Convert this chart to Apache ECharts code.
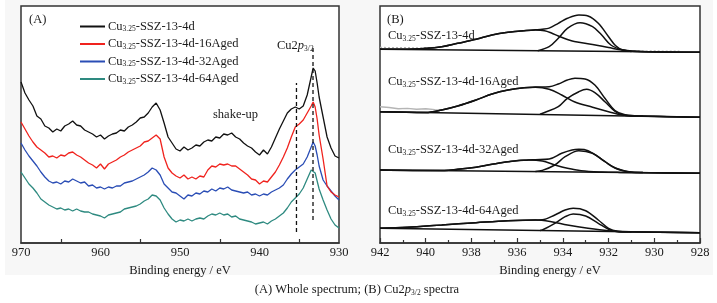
<!DOCTYPE html>
<html>
<head>
<meta charset="utf-8">
<script src="https://cdn.jsdelivr.net/npm/echarts@6/dist/echarts.min.js"></script>
<style>
  html, body { margin: 0; padding: 0; background: #fff; }
  #chart { width: 717px; height: 303px; }
</style>
</head>
<body>
<div id="chart"></div>
<script>
// ---- panel A: whole spectrum (binding energy, eV) ----
const eA = [
  970, 969.5, 969, 968.5, 968, 967.5, 967, 966.5, 966, 965.5,
  965, 964.5, 964, 963.5, 963, 962.5, 962, 961.5, 961, 960.5,
  960, 959.5, 959, 958.5, 958, 957.5, 957, 956.5, 956, 955.5,
  955, 954.5, 954, 953.5, 953, 952.5, 952, 951.5, 951, 950.5,
  950, 949.5, 949, 948.5, 948, 947.5, 947, 946.5, 946, 945.5,
  945, 944.5, 944, 943.5, 943, 942.5, 942, 941.5, 941, 940.5,
  940, 939.5, 939, 938.5, 938, 937.5, 937, 936.5, 936, 935.5,
  935, 934.5, 934, 933.5, 933.25, 933, 932.75, 932.5, 932, 931.5, 931, 930.5, 930
];
const aged0 = [
  161, 150, 143, 137, 127, 124, 117, 115, 111, 114,
  112, 117, 119, 122, 118, 117, 113, 111, 109, 106,
  108, 104, 107, 109, 110, 113, 112, 116, 118, 121,
  125, 126, 130, 136, 140, 133, 120, 106, 100, 94,
  92, 96, 93, 95, 98, 97, 101, 103, 102, 106,
  105, 109, 108, 110, 106, 104, 100, 97, 95, 91,
  88, 93, 89, 96, 105, 114, 122, 130, 134, 136,
  134, 137, 148, 166, 175, 172, 160, 146, 126, 106, 95, 87, 85
];
const aged16 = [
  121, 114, 107, 101, 96, 93, 90, 86, 87, 85,
  88, 87, 90, 91, 88, 86, 83, 80, 78, 75,
  79, 74, 79, 81, 83, 86, 88, 91, 93, 95,
  97, 101, 102, 105, 108, 104, 86, 75, 70, 67,
  65, 68, 64, 66, 64, 67, 66, 73, 77, 76,
  79, 78, 79, 77, 77, 74, 71, 68, 64, 63,
  59, 62, 61, 66, 71, 78, 86, 95, 106, 116,
  119, 123, 130, 137, 141, 136, 124, 108, 84, 57, 51, 48, 46
];
const aged32 = [
  100, 93, 87, 82, 77, 71, 66, 62, 60, 61,
  59, 62, 61, 64, 62, 60, 61, 57, 58, 55,
  56, 54, 56, 55, 57, 57, 60, 61, 62, 64,
  66, 68, 71, 75, 73, 68, 59, 55, 51, 50,
  47, 44, 48, 47, 50, 49, 52, 51, 54, 52,
  55, 54, 56, 53, 52, 51, 50, 51, 48, 49,
  47, 49, 48, 51, 53, 55, 58, 64, 69, 73,
  76, 79, 86, 96, 101, 97, 88, 77, 63, 57, 52, 47, 43
];
const aged64 = [
  71, 65, 59, 55, 50, 44, 41, 38, 36, 34,
  35, 33, 34, 32, 34, 32, 31, 31, 29, 28,
  27, 25, 28, 29, 30, 31, 34, 35, 36, 37,
  39, 42, 44, 48, 47, 43, 35, 29, 24, 21,
  23, 22, 24, 22, 24, 25, 24, 27, 29, 28,
  30, 28, 29, 26, 27, 24, 23, 22, 21, 19,
  20, 21, 19, 22, 24, 27, 30, 35, 41, 45,
  49, 55, 64, 73, 75, 70, 62, 54, 43, 33, 24, 18, 15
];
const namesA = ['Cu3.25-SSZ-13-4d', 'Cu3.25-SSZ-13-4d-16Aged', 'Cu3.25-SSZ-13-4d-32Aged', 'Cu3.25-SSZ-13-4d-64Aged'];
const colorsA = ['#111111', '#f0231e', '#2a4db5', '#2e8a80'];
const dashSatellite = [[935.35, 11], [935.35, 160]];
const dashMain = [[933.27, 23], [933.27, 195]];

// ---- panel B: Cu2p3/2 fits, [eV, intensity] ----
const b1Base = [[942, 193.7], [928, 190.7]];
const b1Cu2 = [[942, 193.7], [940.5, 194], [939.3, 196.3], [938.6, 199.7], [937.8, 203.7], [937.1, 208], [936.4, 210.7], [935.7, 212.3], [935.2, 213], [934.8, 212.3], [934.5, 210], [934.2, 207], [933.8, 203.5], [933.5, 201.5], [932.7, 198.5], [932.0, 195.5], [931.4, 193], [930.5, 191.6], [928, 190.7]];
const b1Cu1 = [[935.1, 192.3], [934.6, 196.3], [934.2, 204.7], [933.8, 214.7], [933.25, 220.3], [932.7, 216.3], [932.3, 208], [931.9, 198], [931.4, 193], [931.0, 191.6]];
const b1Env = [[942, 193.7], [940.5, 194], [939.3, 196.3], [938.6, 199.7], [937.8, 203.7], [937.1, 208], [936.4, 210.7], [935.7, 212.3], [935.2, 213.2], [934.9, 213.8], [934.6, 214.9], [934.2, 219.7], [933.8, 224.7], [933.3, 228], [932.9, 227], [932.45, 219.7], [932.0, 206.3], [931.7, 197.5], [931.4, 193.3], [930.8, 191.4], [928, 190.7]];
const b1RawL = [[942, 195.6], [941.5, 195.4], [941, 195.5], [940.5, 195.2], [940, 195.3], [939.6, 195.6]];
const b1RawR = [[930.9, 192.2], [930.4, 192], [929.9, 192.1], [929.4, 191.8], [928.9, 191.9]];

const b2Base = [[942, 131.3], [928, 125.7]];
const b2Cu2 = [[942, 131.3], [940, 130.5], [939.3, 133], [938.6, 137], [937.8, 143], [937.1, 149], [936.4, 153], [935.7, 155.3], [935.2, 155.7], [934.6, 153.7], [934.05, 148], [933.5, 141.3], [932.7, 135.7], [932.0, 131.3], [931.4, 128], [930.5, 127], [928, 125.7]];
const b2Cu1 = [[935.0, 128.8], [934.8, 130.5], [934.2, 136.3], [933.8, 144.7], [933.3, 151.3], [932.96, 153.7], [932.6, 150.3], [932.16, 141.3], [931.7, 131.3], [931.35, 128], [930.8, 127]];
const b2Env = [[942, 131.3], [940, 130.5], [939.3, 133], [938.6, 137], [937.8, 143], [937.1, 149], [936.4, 153], [935.7, 155.3], [935.2, 155.9], [934.6, 156.3], [934.2, 159], [933.8, 163], [933.47, 164.7], [933.03, 164], [932.6, 158], [932.16, 144.7], [931.72, 132.5], [931.28, 128.3], [930.5, 127], [928, 125.7]];
const b2Raw = [[942, 136.3], [941.6, 135.5], [941.2, 134.2], [940.8, 134.6], [940.4, 133.8], [940, 134.3], [939.6, 133.4], [939.3, 133]];

const b3Base = [[942, 73], [928, 69.7]];
const b3Cu2 = [[942, 73], [939.5, 72.4], [938.6, 73.7], [937.8, 75.7], [937.1, 78.7], [936.4, 81.3], [935.5, 83], [934.9, 82], [934.35, 78], [933.8, 74.7], [933.2, 72.3], [932.3, 71], [931.5, 70.6], [928, 69.7]];
const b3Cu1 = [[935.2, 71.6], [934.9, 72.6], [934.35, 78], [933.9, 86.3], [933.3, 92.3], [932.7, 89.7], [932.16, 81.3], [931.7, 74.7], [931.1, 71], [930.5, 70.4]];
const b3Env = [[942, 73], [939.5, 72.4], [938.6, 73.7], [937.8, 75.7], [937.1, 78.7], [936.4, 81.3], [935.5, 83], [935.2, 83.3], [934.6, 84], [934.05, 89.7], [933.6, 93], [933.3, 93.7], [932.9, 92.3], [932.3, 83.7], [931.7, 75], [931.1, 71.2], [930.5, 70.4], [928, 69.7]];

const b4Base = [[942, 14.7], [928, 10.3]];
const b4Cu2 = [[942, 14.7], [940.8, 15.7], [939.3, 18], [937.8, 20.3], [936.4, 22.3], [935.2, 23], [934.5, 21.3], [933.8, 18], [932.9, 14.7], [932.0, 12.3], [931, 11.2], [928, 10.3]];
const b4Cu1 = [[935.0, 12.6], [934.9, 13], [934.35, 19.7], [933.9, 26.3], [933.55, 29], [933.0, 27], [932.45, 19.7], [932.0, 13.7], [931.6, 11.3], [931, 11]];
const b4Env = [[942, 14.7], [940.8, 15.7], [939.3, 18], [937.8, 20.3], [936.4, 22.3], [935.2, 23], [934.9, 23.2], [934.35, 28], [933.9, 33], [933.55, 34.7], [933.0, 32.3], [932.45, 23], [932.0, 14.7], [931.6, 11.8], [931, 11.1], [928, 10.3]];

const FONT = '"Liberation Serif", "Times New Roman", serif';
const INK = '#1a1a1a';

const chart = echarts.init(document.getElementById('chart'));

function zipA(vals) {
  return eA.map((e, i) => [e, vals[i]]);
}

// rich text for "Cu_{3.25}-..." labels drawn as graphic elements
const gRich = {
  n: { fontSize: 12.5, fontFamily: FONT, fill: INK, lineHeight: 14 },
  s: { fontSize: 7.5, fontFamily: FONT, fill: INK, lineHeight: 6, verticalAlign: 'bottom' },
  i: { fontSize: 12.5, fontFamily: FONT, fill: INK, lineHeight: 14, fontStyle: 'italic' }
};
function cuText(rest) {
  return '{n|Cu}{s|3.25}{n|' + rest + '}';
}
function gText(x, y, text, align) {
  return {
    type: 'text', x: x, y: y, z: 100,
    style: { text: text, rich: gRich, align: align || 'left', verticalAlign: 'middle', fontFamily: FONT, fontSize: 12.5, fill: INK }
  };
}

function fitLine(data, xi, extra) {
  return Object.assign({
    type: 'line', xAxisIndex: xi, yAxisIndex: xi, data: data,
    symbol: 'none', smooth: 0.35, silent: true,
    lineStyle: { color: '#111', width: 1.5 }
  }, extra || {});
}

const seriesA = [aged0, aged16, aged32, aged64].map((vals, k) => ({
  name: namesA[k], type: 'line', xAxisIndex: 0, yAxisIndex: 0,
  data: zipA(vals), symbol: 'none', z: 4 - k,
  lineStyle: { color: colorsA[k], width: 1.3 },
  itemStyle: { color: colorsA[k] }
}));

const dashStyle = { color: '#111', width: 1.3, type: [4, 3] };
seriesA.push(fitLine(dashSatellite, 0, { smooth: false, lineStyle: dashStyle, z: 5 }));
seriesA.push(fitLine(dashMain, 0, { smooth: false, lineStyle: dashStyle, z: 5 }));

const rawStyle = { color: '#b5b5b5', width: 1.2, type: [2, 2] };
const seriesB = [
  fitLine(b1RawL, 1, { lineStyle: rawStyle, smooth: false }),
  fitLine(b1RawR, 1, { lineStyle: rawStyle, smooth: false }),
  fitLine(b2Raw, 1, { lineStyle: { color: '#b5b5b5', width: 1.4 }, smooth: false }),
  fitLine(b1Base, 1, { smooth: false }), fitLine(b1Cu2, 1), fitLine(b1Cu1, 1), fitLine(b1Env, 1),
  fitLine(b2Base, 1, { smooth: false }), fitLine(b2Cu2, 1), fitLine(b2Cu1, 1), fitLine(b2Env, 1),
  fitLine(b3Base, 1, { smooth: false }), fitLine(b3Cu2, 1), fitLine(b3Cu1, 1), fitLine(b3Env, 1),
  fitLine(b4Base, 1, { smooth: false }), fitLine(b4Cu2, 1), fitLine(b4Cu1, 1), fitLine(b4Env, 1)
];

const axisCommon = {
  type: 'value', inverse: true,
  nameLocation: 'middle', nameGap: 16,
  nameTextStyle: { fontFamily: FONT, fontSize: 12.5, color: INK },
  axisLine: { show: true, lineStyle: { color: '#333', width: 1.5 } },
  axisLabel: { fontFamily: FONT, fontSize: 12.5, color: INK, margin: 3, showMinLabel: true, showMaxLabel: true },
  splitLine: { show: false },
  minorSplitLine: { show: false }
};

const option = {
  animation: false,
  backgroundColor: '#ffffff',
  graphic: [
    { type: 'rect', shape: { x: 5, y: 0, width: 708, height: 275 }, style: { fill: '#f7f7f7' }, z: -10, silent: true },
    gText(29, 20, '{n|(A)}'),
    gText(213, 115, '{n|shake-up}'),
    gText(277, 46, '{n|Cu2}{i|p}{s|3/2}'),
    gText(387, 20, '{n|(B)}'),
    gText(388, 36, cuText('-SSZ-13-4d')),
    gText(388, 82, cuText('-SSZ-13-4d-16Aged')),
    gText(388, 150, cuText('-SSZ-13-4d-32Aged')),
    gText(388, 211, cuText('-SSZ-13-4d-64Aged')),
    gText(357, 290, '{n|(A) Whole spectrum; (B) Cu2}{i|p}{s|3/2}{n| spectra}', 'center')
  ],
  legend: {
    data: namesA, orient: 'vertical', left: 75, top: 15,
    icon: 'rect', itemWidth: 25, itemHeight: 2, itemGap: 4,
    selectedMode: false,
    formatter: function (name) {
      return '{n|Cu}{s|3.25}{n|' + name.slice(6) + '}';
    },
    textStyle: {
      padding: [0, 0, 0, -2],
      rich: {
        n: { fontSize: 12.5, fontFamily: FONT, color: INK, lineHeight: 14 },
        s: { fontSize: 7.5, fontFamily: FONT, color: INK, lineHeight: 6, verticalAlign: 'bottom' }
      }
    }
  },
  grid: [
    { left: 21, top: 6, width: 318, height: 237, show: true, backgroundColor: '#fff', borderColor: '#333', borderWidth: 1.5, outerBoundsMode: 'none', containLabel: false },
    { left: 380, top: 6, width: 320, height: 237, show: true, backgroundColor: '#fff', borderColor: '#333', borderWidth: 1.5, outerBoundsMode: 'none', containLabel: false }
  ],
  xAxis: [
    Object.assign({}, axisCommon, {
      gridIndex: 0, min: 930, max: 970, interval: 10, name: 'Binding energy / eV',
      axisTick: { show: false, inside: true, length: 5 },
      minorTick: { show: true, splitNumber: 2, length: 4, lineStyle: { color: '#333', width: 1.2 } }
    }),
    Object.assign({}, axisCommon, {
      gridIndex: 1, min: 928, max: 942, interval: 2, name: 'Binding energy / eV',
      nameTextStyle: { fontFamily: FONT, fontSize: 12.5, color: INK, padding: [0, 0, 0, 20] },
      axisTick: { show: true, inside: true, length: 5, lineStyle: { color: '#333', width: 1.2 } },
      minorTick: { show: true, splitNumber: 2, length: 3, lineStyle: { color: '#333', width: 1.2 } }
    })
  ],
  yAxis: [
    { type: 'value', gridIndex: 0, min: 0, max: 237, show: false },
    { type: 'value', gridIndex: 1, min: 0, max: 237, show: false }
  ],
  series: seriesA.concat(seriesB)
};

chart.setOption(option);
</script>
</body>
</html>
